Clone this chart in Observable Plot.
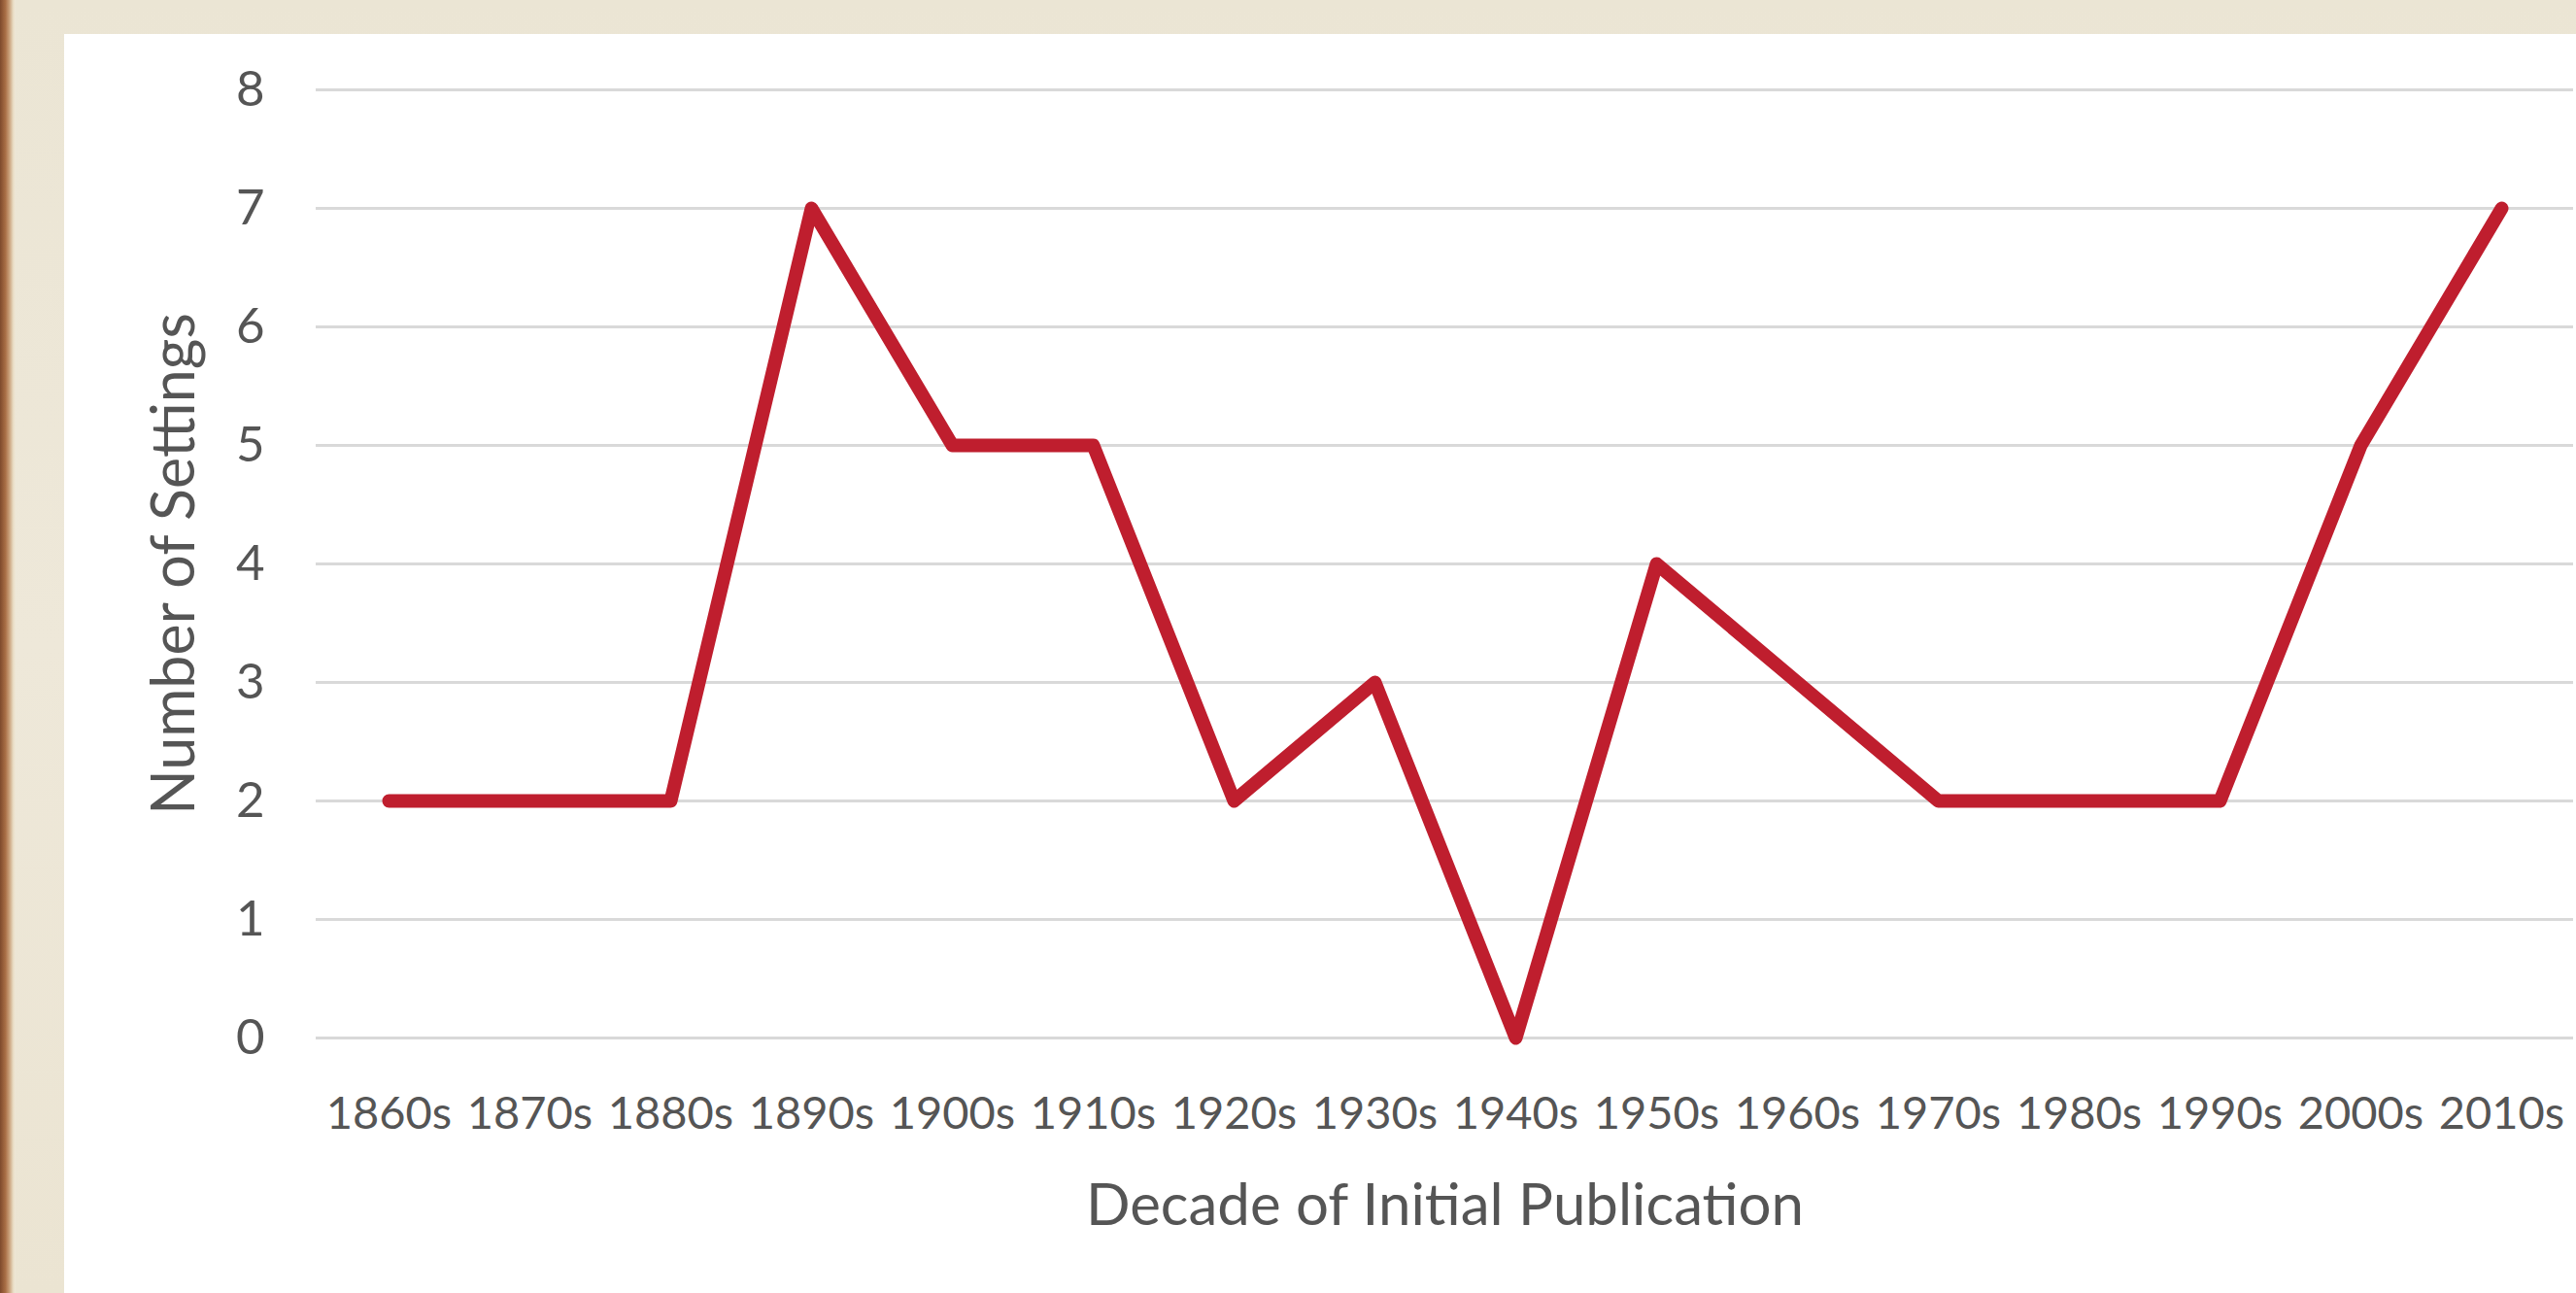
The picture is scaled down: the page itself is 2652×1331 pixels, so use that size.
<!DOCTYPE html>
<html>
<head>
<meta charset="utf-8">
<script src="https://cdn.jsdelivr.net/npm/d3@7"></script>
<script src="https://cdn.jsdelivr.net/npm/@observablehq/plot@0.6"></script>
<style>
  html, body { margin: 0; padding: 0; }
  body {
    width: 2652px; height: 1331px; overflow: hidden; position: relative;
    background: linear-gradient(180deg, #ebe5d4 0%, #eee8d9 50%, #ebe4d2 100%);
    font-family: Lato, "Open Sans", sans-serif;
  }
  #edge {
    position: absolute; left: 0; top: 0; width: 16px; height: 1331px;
    background: linear-gradient(90deg, #7e4a2c 0%, #a86e45 35%, #c9a07a 60%, #e8dcc4 85%, #efe8d8 100%);
  }
  #panel {
    position: absolute; left: 66px; top: 35px; width: 2586px; height: 1296px;
    background: #ffffff;
  }
</style>
</head>
<body>
<div id="edge"></div>
<div id="panel"></div>
<script>
const decades = ["1860s","1870s","1880s","1890s","1900s","1910s","1920s","1930s","1940s","1950s","1960s","1970s","1980s","1990s","2000s","2010s"];
const settings = [2, 2, 2, 7, 5, 5, 2, 3, 0, 4, 3, 2, 2, 2, 5, 7];
const yTicks = [0, 1, 2, 3, 4, 5, 6, 7, 8];
const xTitle = "Decade of Initial Publication";
const yTitle = "Number of Settings";

const rows = decades.map((d, i) => ({decade: d, count: settings[i]}));

const chart = Plot.plot({
  width: 2586,
  height: 1296,
  marginLeft: 259,
  marginRight: 3,
  marginTop: 57,
  marginBottom: 263,
  style: {background: "transparent", color: "#555555", fontFamily: "Lato, 'Open Sans', sans-serif", overflow: "visible"},
  x: {type: "point", domain: decades, padding: 0.5},
  y: {domain: [0, 8]},
  marks: [
    Plot.ruleY(yTicks, {stroke: "#d9d9d9", strokeWidth: 3}),
    Plot.axisY(yTicks, {tickSize: 0, tickPadding: 53, fontSize: 51, label: null, tickFormat: d => String(d)}),
    Plot.axisX({tickSize: 0, tickPadding: 60, fontSize: 47, label: null}),
    Plot.line(rows, {x: "decade", y: "count", stroke: "#bf1e2e", strokeWidth: 14, strokeLinejoin: "round", strokeLinecap: "round"}),
    Plot.text([xTitle], {frameAnchor: "bottom", dy: 173, fontSize: 60, lineAnchor: "middle", fill: "#555555"}),
    Plot.text([yTitle], {frameAnchor: "left", dx: -145, rotate: -90, fontSize: 61, textAnchor: "middle", lineAnchor: "middle", fill: "#555555"})
  ]
});
document.getElementById("panel").appendChild(chart);
</script>
</body>
</html>
